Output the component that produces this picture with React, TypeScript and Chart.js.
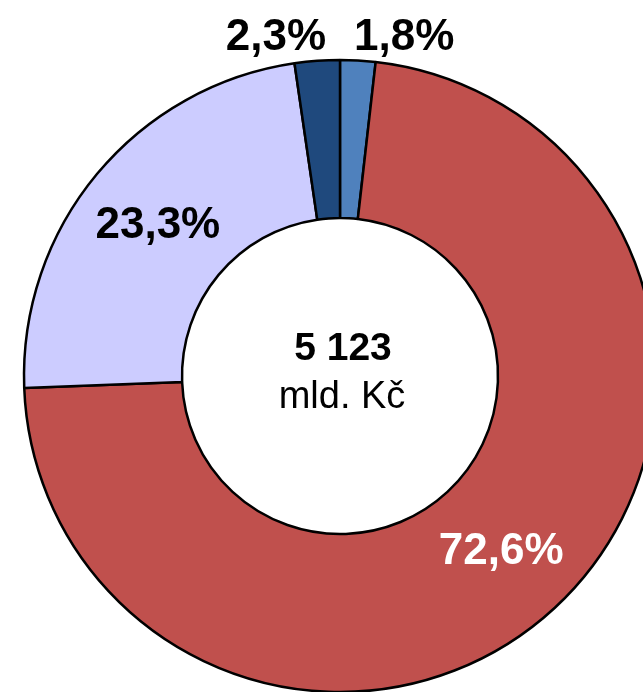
import React, { useEffect, useRef } from "react";
import { Chart, registerables } from "chart.js";

Chart.register(...registerables);

const categories = ["Segment A", "Segment B", "Segment C", "Segment D"];
const values = [1.8, 72.6, 23.3, 2.3];
const valueLabels = ["1,8%", "72,6%", "23,3%", "2,3%"];
const colors = ["#4F81BD", "#C0504D", "#CCCCFF", "#1F497D"];
const labelColors = ["#000000", "#FFFFFF", "#000000", "#000000"];
const labelOutside = [true, false, false, true];
const centerTotal = "5 123";
const centerUnit = "mld. Kč";

const FONT = '"Liberation Sans", Arial, sans-serif';

const labelPlugin = {
  id: "labelPlugin",
  afterDraw(chart: any) {
    const ctx = chart.ctx;
    const meta = chart.getDatasetMeta(0);
    ctx.save();
    meta.data.forEach((arc: any, i: number) => {
      const { x, y, startAngle, endAngle, innerRadius, outerRadius } = arc.getProps(
        ["x", "y", "startAngle", "endAngle", "innerRadius", "outerRadius"],
        true
      );
      const mid = (startAngle + endAngle) / 2;
      ctx.font = `bold 44px ${FONT}`;
      ctx.fillStyle = labelColors[i];
      if (labelOutside[i]) {
        const w = ctx.measureText(valueLabels[i]).width;
        const side = Math.cos(mid) >= 0 ? 1 : -1;
        ctx.textAlign = "center";
        ctx.textBaseline = "alphabetic";
        ctx.fillText(valueLabels[i], x + side * (w / 2 + 14), y - outerRadius - 10);
      } else {
        const r = (innerRadius + outerRadius) / 2;
        ctx.textAlign = "center";
        ctx.textBaseline = "middle";
        ctx.fillText(valueLabels[i], x + Math.cos(mid) * r, y + Math.sin(mid) * r + 2);
      }
    });
    const a0 = meta.data[0];
    const cx = a0.x;
    const cy = a0.y;
    ctx.fillStyle = "#000000";
    ctx.textAlign = "center";
    ctx.textBaseline = "alphabetic";
    ctx.font = `bold 39px ${FONT}`;
    ctx.fillText(centerTotal, cx + 3, cy - 16);
    ctx.font = `38px ${FONT}`;
    ctx.fillText(centerUnit, cx + 2, cy + 32);
    ctx.restore();
  },
};

export default function App() {
  const ref = useRef<HTMLCanvasElement | null>(null);
  useEffect(() => {
    if (!ref.current) return;
    const chart = new Chart(ref.current, {
      type: "doughnut",
      data: {
        labels: categories,
        datasets: [
          {
            data: values,
            backgroundColor: colors,
            borderColor: "#000000",
            borderWidth: 2.5,
          },
        ],
      },
      options: {
        responsive: false,
        animation: false,
        radius: 316,
        cutout: "50%",
        layout: { padding: 0 },
        plugins: {
          legend: { display: false },
          tooltip: { enabled: false },
        },
      } as any,
      plugins: [labelPlugin],
    });
    return () => chart.destroy();
  }, []);
  return (
    <div
      style={{
        position: "fixed",
        top: 0,
        left: 0,
        width: 643,
        height: 692,
        overflow: "hidden",
        background: "#ffffff",
      }}
    >
      <canvas
        ref={ref}
        width={680}
        height={752}
        style={{ position: "absolute", top: 0, left: 0, width: 680, height: 752 }}
      />
    </div>
  );
}
